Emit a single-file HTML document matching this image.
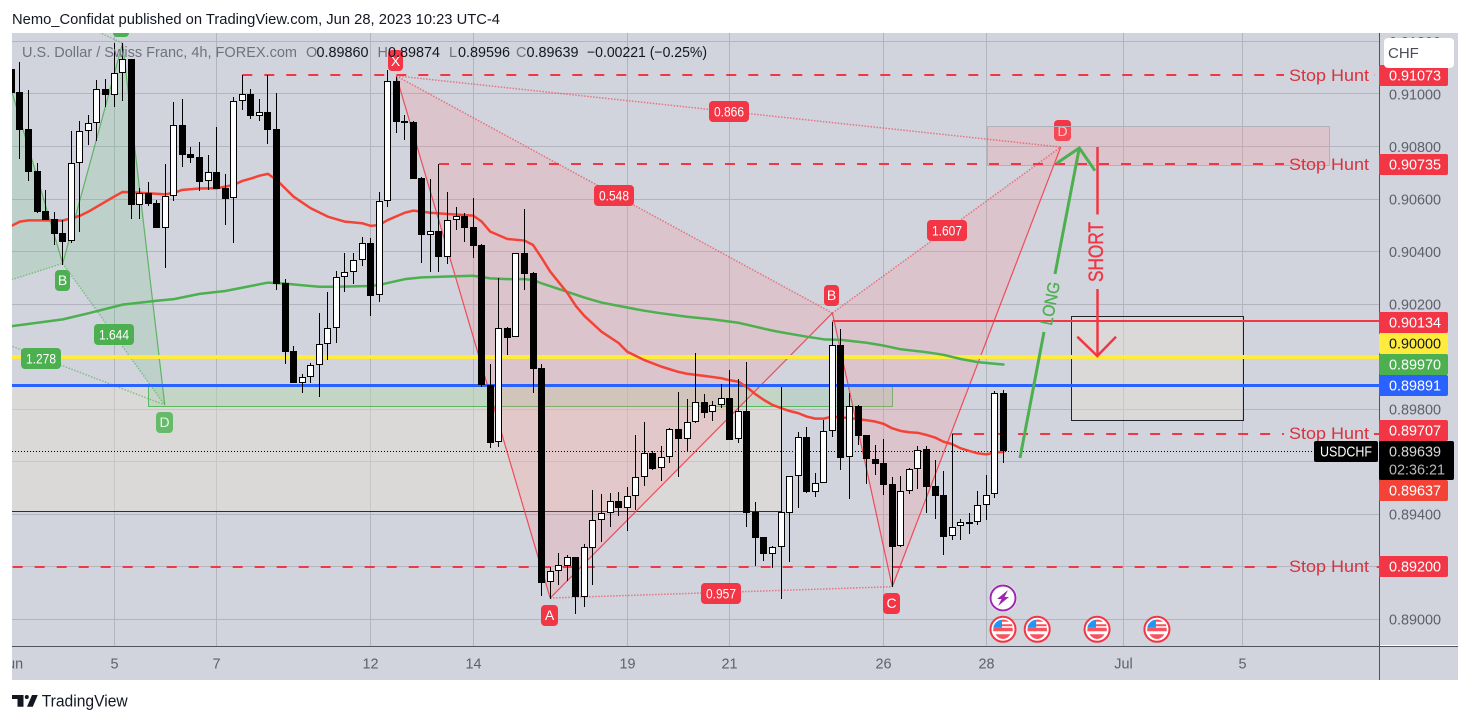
<!DOCTYPE html>
<html lang="en">
<head>
<meta charset="utf-8">
<title>USDCHF 4h chart</title>
<style>
  html, body { margin: 0; padding: 0; background: #ffffff; width: 1470px; height: 723px; overflow: hidden; }
  svg { position: absolute; left: 0; top: 0; display: block; font-family: "Liberation Sans", sans-serif; }
  .axis-text { font-size: 14.4px; fill: #5d606b; }
  .tag-text { font-size: 14.4px; fill: #ffffff; }
  .pill-text { font-size: 14px; fill: #ffffff; text-anchor: middle; }
  .hunt-text { font-size: 16.5px; fill: #d8323f; }
  .legend-label { font-size: 14.4px; fill: #6f7380; }
  .legend-value { font-size: 14.4px; fill: #131722; }
</style>
</head>
<body>
<svg id="chart" width="1470" height="723" viewBox="0 0 1470 723" xmlns="http://www.w3.org/2000/svg">
  <defs>
    <clipPath id="pane-clip"><rect x="12" y="33" width="1367" height="613"/></clipPath>
    <clipPath id="time-clip"><rect x="12" y="647" width="1367" height="33"/></clipPath>
    <clipPath id="hunt-clip"><rect x="0" y="0" width="1284" height="723"/><rect x="1374" y="0" width="5" height="723"/></clipPath>
  </defs>

  <text x="12" y="24" font-size="15" fill="#131722" textLength="488" lengthAdjust="spacingAndGlyphs">Nemo_Confidat published on TradingView.com, Jun 28, 2023 10:23 UTC-4</text>

  <rect x="12" y="33" width="1446" height="647" fill="#d1d4dc"/>

  <g id="grid-layer"></g>
  <g clip-path="url(#pane-clip)">
    <g><rect x="1054" y="120" width="17" height="21" rx="4" fill="#f23645"/><text class="pill-text" x="1062.5" y="136" fill-opacity="0.8">D</text></g>
    <g id="zone-layer"></g>
    <g id="harmonic-layer"></g>
    <g id="level-layer"></g>
    <g id="ema-layer"></g>
    <g id="candle-layer"></g>

    <g fill="none" stroke="#4caf50" stroke-width="3">
      <polyline points="1020,458 1044,332"/>
      <polyline points="1055,274 1079.3,148"/>
      <polyline points="1056.7,163.3 1079.3,148 1095,170.7"/>
    </g>
    <text transform="translate(1050.5,303.5) rotate(-79)" font-size="17" fill="#4caf50" stroke="#4caf50" stroke-width="0.3" text-anchor="middle" dominant-baseline="central" textLength="44" lengthAdjust="spacingAndGlyphs">LONG</text>
    <g fill="none" stroke="#f23645" stroke-width="2.5">
      <polyline points="1097.5,147 1097.5,214.5"/>
      <polyline points="1097.5,289 1097.5,356"/>
      <polyline points="1077.3,336.7 1097.3,356 1116,336.7"/>
    </g>
    <text transform="translate(1096.5,252) rotate(-90)" font-size="21" fill="#f23645" stroke="#f23645" stroke-width="0.4" text-anchor="middle" dominant-baseline="central" textLength="60" lengthAdjust="spacingAndGlyphs">SHORT</text>

    <g>
      <g><rect x="388" y="50" width="15" height="21" rx="4" fill="#f23645"/><text class="pill-text" x="395.5" y="66">X</text></g>
      <g><rect x="541" y="605" width="17" height="21" rx="4" fill="#f23645"/><text class="pill-text" x="549.5" y="620">A</text></g>
      <g><rect x="824" y="285" width="15" height="21" rx="4" fill="#f23645"/><text class="pill-text" x="831.5" y="300">B</text></g>
      <g><rect x="883" y="593" width="17" height="21" rx="4" fill="#f23645"/><text class="pill-text" x="891.5" y="608">C</text></g>
      <g><rect x="709" y="101" width="40" height="21" rx="4" fill="#f23645"/><text class="pill-text" x="729" y="116.5" textLength="30" lengthAdjust="spacingAndGlyphs">0.866</text></g>
      <g><rect x="594" y="185" width="40" height="21" rx="4" fill="#f23645"/><text class="pill-text" x="614" y="200.5" textLength="30" lengthAdjust="spacingAndGlyphs">0.548</text></g>
      <g><rect x="927" y="220" width="40" height="21" rx="4" fill="#f23645"/><text class="pill-text" x="947" y="235.5" textLength="30" lengthAdjust="spacingAndGlyphs">1.607</text></g>
      <g><rect x="701" y="583" width="40" height="21" rx="4" fill="#f23645"/><text class="pill-text" x="721" y="598.5" textLength="30" lengthAdjust="spacingAndGlyphs">0.957</text></g>

      <g><rect x="113" y="16" width="16" height="21" rx="4" fill="#4caf50"/></g>
      <g><rect x="55" y="270" width="15" height="21" rx="4" fill="#4caf50"/><text class="pill-text" x="62.5" y="285">B</text></g>
      <g><rect x="156" y="412" width="17" height="21" rx="4" fill="#66bb6a"/><text class="pill-text" x="164.5" y="427" fill-opacity="0.85">D</text></g>
      <g><rect x="94" y="324" width="40" height="21" rx="4" fill="#4caf50"/><text class="pill-text" x="114" y="339.5" textLength="30" lengthAdjust="spacingAndGlyphs">1.644</text></g>
      <g><rect x="21" y="348" width="40" height="21" rx="4" fill="#4caf50"/><text class="pill-text" x="41" y="363.5" textLength="30" lengthAdjust="spacingAndGlyphs">1.278</text></g>
    </g>

    <text class="hunt-text" x="1289" y="81" textLength="80" lengthAdjust="spacingAndGlyphs">Stop Hunt</text>
    <text class="hunt-text" x="1289" y="170" textLength="80" lengthAdjust="spacingAndGlyphs">Stop Hunt</text>
    <text class="hunt-text" x="1289" y="439" textLength="80" lengthAdjust="spacingAndGlyphs">Stop Hunt</text>
    <text class="hunt-text" x="1289" y="572" textLength="80" lengthAdjust="spacingAndGlyphs">Stop Hunt</text>

    <g>
      <text class="legend-label" x="22" y="57" textLength="275" lengthAdjust="spacingAndGlyphs">U.S. Dollar / Swiss Franc, 4h, FOREX.com</text>
      <text class="legend-label" x="306" y="57">O</text>
      <text class="legend-value" x="316.5" y="57" textLength="52">0.89860</text>
      <text class="legend-label" x="377.5" y="57">H</text>
      <text class="legend-value" x="388" y="57" textLength="52">0.89874</text>
      <text class="legend-label" x="449" y="57">L</text>
      <text class="legend-value" x="458" y="57" textLength="52">0.89596</text>
      <text class="legend-label" x="516" y="57">C</text>
      <text class="legend-value" x="526.5" y="57" textLength="52">0.89639</text>
      <text class="legend-value" x="587" y="57" textLength="120" lengthAdjust="spacingAndGlyphs">−0.00221 (−0.25%)</text>
    </g>

    <rect x="1314" y="441" width="64" height="21" rx="2" fill="#000000"/>
    <text x="1320" y="456.5" font-size="14.4" fill="#ffffff" textLength="52" lengthAdjust="spacingAndGlyphs">USDCHF</text>
  </g>

  <line x1="1379" y1="645.5" x2="1458" y2="645.5" stroke="#ffffff" stroke-width="1"/>
  <line x1="12" y1="646.5" x2="1458" y2="646.5" stroke="#50535e" stroke-width="1"/>
  <line x1="1379.5" y1="33" x2="1379.5" y2="680" stroke="#50535e" stroke-width="1"/>
  <g id="axis-layer"></g>

  <g>
    <g><rect x="1379" y="65" width="69" height="21" rx="2" fill="#f23645"/><text class="tag-text" x="1389" y="80.5">0.91073</text></g>
    <g><rect x="1379" y="154" width="69" height="21" rx="2" fill="#f23645"/><text class="tag-text" x="1389" y="169.5">0.90735</text></g>
    <g><rect x="1379" y="312" width="69" height="21" rx="2" fill="#f23645"/><text class="tag-text" x="1389" y="327.5">0.90134</text></g>
    <g><rect x="1379" y="333" width="69" height="21" rx="2" fill="#ffeb3b"/><text class="tag-text" x="1389" y="348.5" style="fill:#131722">0.90000</text></g>
    <g><rect x="1379" y="354" width="69" height="21" rx="2" fill="#4caf50"/><text class="tag-text" x="1389" y="369.5">0.89970</text></g>
    <g><rect x="1379" y="375" width="69" height="21" rx="2" fill="#2962ff"/><text class="tag-text" x="1389" y="390.5">0.89891</text></g>
    <g><rect x="1379" y="420" width="69" height="21" rx="2" fill="#f23645"/><text class="tag-text" x="1389" y="435.5">0.89707</text></g>
    <g><rect x="1379" y="441" width="75" height="39" rx="2" fill="#000000"/><text class="tag-text" x="1389" y="456.5" style="fill:#d8d8d8">0.89639</text><text class="tag-text" x="1389" y="474.5" style="fill:#b8b8b8" textLength="56" lengthAdjust="spacingAndGlyphs">02:36:21</text></g>
    <g><rect x="1379" y="480" width="69" height="21" rx="2" fill="#f44336"/><text class="tag-text" x="1389" y="495.5">0.89637</text></g>
    <g><rect x="1379" y="556" width="69" height="21" rx="2" fill="#f23645"/><text class="tag-text" x="1389" y="571.5">0.89200</text></g>
  </g>

  <g>
    <rect x="1384" y="38" width="70" height="30" rx="4" fill="#ffffff"/>
    <text x="1388" y="58" font-size="15" fill="#4a4d57">CHF</text>
  </g>

  <g id="event-layer"></g>

  <g>
    <path d="M12 695h11.5v11.7h-6v-7.7H12z M26.8 695a2 2 0 1 1 0 4a2 2 0 1 1 0-4z M32 695h5.8l-5 11.7H27z" fill="#131722"/>
    <text x="41.7" y="706.7" font-size="16.5" fill="#131722" textLength="86" lengthAdjust="spacingAndGlyphs">TradingView</text>
  </g>
</svg>

<script>
// ---- Candle data (4h bars), first entry is bar index -1 ----
const firstBar = -1;
const opens = [0.91095,0.91008,0.90867,0.90707,0.90555,0.90524,0.90471,0.90439,0.90736,0.90858,0.90889,0.91019,0.90997,0.91079,0.91132,0.90579,0.90622,0.90584,0.90491,0.90611,0.90881,0.90772,0.90759,0.90668,0.90702,0.90642,0.90603,0.90972,0.90999,0.90917,0.90930,0.90867,0.90281,0.90022,0.89901,0.89923,0.89968,0.90048,0.90109,0.90302,0.90321,0.90367,0.90432,0.90234,0.90592,0.91048,0.90897,0.90893,0.90680,0.90464,0.90477,0.90381,0.90519,0.90536,0.90493,0.90424,0.89893,0.89674,0.90108,0.90074,0.90394,0.90319,0.89956,0.89141,0.89182,0.89204,0.89236,0.89086,0.89273,0.89377,0.89404,0.89450,0.89425,0.89469,0.89541,0.89633,0.89575,0.89617,0.89724,0.89688,0.89750,0.89826,0.89788,0.89815,0.89842,0.89686,0.89793,0.89409,0.89312,0.89250,0.89274,0.89406,0.89545,0.89693,0.89486,0.89518,0.89716,0.90043,0.89617,0.89811,0.89701,0.89609,0.89594,0.89514,0.89278,0.89488,0.89571,0.89648,0.89507,0.89472,0.89316,0.89354,0.89371,0.89370,0.89434,0.89476,0.89860];
const closes = [0.91005,0.90864,0.90704,0.90552,0.90520,0.90468,0.90438,0.90736,0.90858,0.90889,0.91018,0.90997,0.91079,0.91132,0.90579,0.90622,0.90583,0.90491,0.90611,0.90881,0.90769,0.90758,0.90666,0.90702,0.90640,0.90600,0.90972,0.90999,0.90917,0.90930,0.90864,0.90278,0.90018,0.89901,0.89923,0.89968,0.90048,0.90109,0.90302,0.90321,0.90367,0.90432,0.90232,0.90592,0.91048,0.90895,0.90891,0.90678,0.90464,0.90477,0.90381,0.90519,0.90535,0.90491,0.90423,0.89891,0.89673,0.90108,0.90072,0.90394,0.90316,0.89954,0.89140,0.89182,0.89206,0.89236,0.89086,0.89274,0.89377,0.89404,0.89450,0.89425,0.89469,0.89541,0.89632,0.89574,0.89617,0.89724,0.89688,0.89750,0.89826,0.89787,0.89815,0.89842,0.89684,0.89792,0.89406,0.89311,0.89250,0.89274,0.89408,0.89545,0.89693,0.89486,0.89518,0.89716,0.90043,0.89616,0.89811,0.89699,0.89609,0.89593,0.89513,0.89277,0.89488,0.89571,0.89646,0.89505,0.89471,0.89315,0.89353,0.89370,0.89368,0.89434,0.89475,0.89861,0.89639];
const highs = [0.91118,0.91122,0.91015,0.90736,0.90635,0.90551,0.90520,0.90859,0.90897,0.90920,0.91053,0.91057,0.91194,0.91194,0.91133,0.90642,0.90665,0.90597,0.90734,0.90970,0.90981,0.90798,0.90816,0.90768,0.90875,0.90696,0.90989,0.91072,0.91019,0.90981,0.91072,0.91004,0.90295,0.90041,0.89934,0.89976,0.90166,0.90246,0.90326,0.90395,0.90395,0.90456,0.90451,0.90627,0.91092,0.91066,0.90920,0.90897,0.90684,0.90677,0.90734,0.90626,0.90570,0.90546,0.90603,0.90429,0.89972,0.90298,0.90113,0.90394,0.90562,0.90321,0.89972,0.89201,0.89252,0.89245,0.89238,0.89286,0.89493,0.89477,0.89480,0.89485,0.89503,0.89702,0.89750,0.89641,0.89660,0.89727,0.89866,0.89839,0.90013,0.89858,0.89831,0.89896,0.89949,0.89915,0.89980,0.89446,0.89314,0.89279,0.89885,0.89546,0.89713,0.89732,0.89557,0.89759,0.90133,0.90104,0.89861,0.89816,0.89702,0.89664,0.89686,0.89541,0.89546,0.89575,0.89660,0.89660,0.89606,0.89564,0.89706,0.89381,0.89404,0.89488,0.89549,0.89870,0.89874];
const lows = [0.91005,0.90754,0.90670,0.90546,0.90520,0.90425,0.90349,0.90432,0.90476,0.90806,0.90821,0.90952,0.90952,0.90973,0.90524,0.90524,0.90575,0.90491,0.90339,0.90593,0.90723,0.90739,0.90632,0.90635,0.90638,0.90501,0.90434,0.90939,0.90906,0.90897,0.90811,0.90254,0.89972,0.89901,0.89863,0.89901,0.89848,0.89987,0.90053,0.90247,0.90278,0.90345,0.90156,0.90209,0.90571,0.90853,0.90826,0.90678,0.90358,0.90324,0.90324,0.90354,0.90482,0.90438,0.90377,0.89886,0.89652,0.89657,0.90007,0.90074,0.90254,0.89863,0.89090,0.89078,0.89131,0.89146,0.89022,0.89048,0.89131,0.89295,0.89353,0.89394,0.89338,0.89416,0.89508,0.89569,0.89527,0.89596,0.89543,0.89642,0.89746,0.89768,0.89756,0.89806,0.89683,0.89670,0.89353,0.89204,0.89223,0.89197,0.89078,0.89220,0.89425,0.89482,0.89467,0.89518,0.89695,0.89570,0.89459,0.89664,0.89517,0.89550,0.89473,0.89124,0.89277,0.89478,0.89497,0.89406,0.89383,0.89246,0.89303,0.89303,0.89326,0.89360,0.89379,0.89463,0.89596];

// ---- Moving averages ----
const redEmaBars = [-1,0,1,3,5,6,7,8,9,10,11,12,13,15,17,18,19,21,23,25,26,27,28,29,30,32,34,36,38,40,41,42,43,45,46,48,50,53,54,55,57,59,60,61,62,64,65,66,68,70,71,73,75,77,78,80,82,83,84,85,86,87,88,89,90,91,92,93,94,95,96,97,98,99,100,101,102,103,104,105,106,107,108,109,110,111,112,113,114,115];
const redEmaValues = [0.90498,0.90514,0.90519,0.90519,0.90518,0.90527,0.90536,0.90552,0.90571,0.90590,0.90609,0.90627,0.90626,0.90622,0.90618,0.90624,0.90635,0.90640,0.90641,0.90654,0.90669,0.90678,0.90689,0.90696,0.90673,0.90609,0.90565,0.90533,0.90514,0.90508,0.90498,0.90501,0.90520,0.90548,0.90556,0.90548,0.90543,0.90537,0.90514,0.90476,0.90448,0.90442,0.90425,0.90376,0.90324,0.90243,0.90193,0.90155,0.90095,0.90052,0.90019,0.89987,0.89962,0.89942,0.89935,0.89927,0.89918,0.89910,0.89905,0.89884,0.89857,0.89835,0.89816,0.89804,0.89793,0.89785,0.89772,0.89764,0.89764,0.89772,0.89769,0.89766,0.89762,0.89758,0.89753,0.89744,0.89727,0.89717,0.89712,0.89710,0.89702,0.89692,0.89676,0.89667,0.89651,0.89641,0.89632,0.89628,0.89635,0.89637];
const greenEmaBars = [-1,5,8,12,16,18,21,24,27,29,31,33,35,37,41,42,45,47,50,53,55,57,59,60,61,64,66,68,71,73,75,78,81,84,86,88,89,92,94,96,99,101,103,106,108,110,112,114,115];
const greenEmaValues = [0.90116,0.90142,0.90165,0.90198,0.90213,0.90219,0.90239,0.90250,0.90269,0.90282,0.90278,0.90272,0.90266,0.90266,0.90269,0.90273,0.90295,0.90302,0.90305,0.90308,0.90298,0.90295,0.90295,0.90292,0.90279,0.90247,0.90225,0.90206,0.90187,0.90175,0.90165,0.90152,0.90142,0.90129,0.90114,0.90099,0.90093,0.90076,0.90066,0.90064,0.90053,0.90042,0.90028,0.90017,0.90007,0.89991,0.89979,0.89973,0.89970];

// ---- Axis ticks ----
const priceTicks = [0.89,0.892,0.894,0.896,0.898,0.90,0.902,0.904,0.906,0.908,0.91,0.912];
const priceTickLabels = ['0.89000','0.89200','0.89400','0.89600','0.89800','0.90000','0.90200','0.90400','0.90600','0.90800','0.91000','0.91200'];
const timeTickBars = [-1,11,23,41,53,71,83,101,113,129,143];
const timeTickLabels = ['Jun','5','7','12','14','19','21','26','28','Jul','5'];

// ---- Horizontal levels ----
const stopHuntPrices = [0.91073,0.90735,0.89707,0.89200];
const stopHuntStartBars = [26,49,109,-1];
const resistancePrice = 0.90134;
const resistanceStartBar = 95;
const roundLevelPrice = 0.90000;
const blueLevelPrice = 0.89891;
const lastPrice = 0.89639;

// ---- Zones: [left bar, right bar] and [top price, bottom price] ----
const grayZoneBars = [-3,89];
const grayZonePrices = [0.89891,0.89411];
const greenZoneBars = [15,102];
const greenZonePrices = [0.89891,0.89810];
const pinkZoneBars = [113.1,153.05];
const pinkZonePrices = [0.90877,0.90730];
const targetBoxBars = [122.9,143];
const targetBoxPrices = [0.90155,0.89759];

// ---- Harmonic patterns: X, A, B, C, D ----
const redPatternBars = [44,62,95,102,121.7];
const redPatternPrices = [0.91069,0.89081,0.90166,0.89124,0.90798];
const greenPatternBars = [-12,-5,5,12,16.93];
const greenPatternPrices = [0.90178,0.91455,0.90355,0.91193,0.89816];

// ---- Event icons ----
const lightningBar = 114.95;
const flagBars = [114.95,118.95,125.95,132.95];

const SVGNS = 'http://www.w3.org/2000/svg';
function xScale(bar) { return 19.95 + 8.552 * bar; }
function yScale(price) { return 619.3 - (price - 0.89) * 26265; }
function crisp(v) { return Math.floor(v) + 0.5; }
function make(parent, tag, attrs) {
  const el = document.createElementNS(SVGNS, tag);
  for (const k in attrs) el.setAttribute(k, attrs[k]);
  parent.appendChild(el);
  return el;
}

// Grid and axis labels
const gridLayer = document.getElementById('grid-layer');
const axisLayer = document.getElementById('axis-layer');
priceTicks.forEach(function (p, i) {
  const y = crisp(yScale(p));
  const line = make(gridLayer, 'line', { x1: 12, x2: 1379, y1: y, y2: y, stroke: '#b2b5be', 'stroke-width': 1 });
  
  
  if (yScale(p) > 33) {
    const t = make(axisLayer, 'text', { class: 'axis-text', x: 1389, y: yScale(p) + 5.3 });
    t.textContent = priceTickLabels[i];
    
    
  }
});
const timeAxisGroup = make(axisLayer, 'g', { 'clip-path': 'url(#time-clip)' });


timeTickBars.forEach(function (b, i) {
  const x = crisp(xScale(b));
  if (x > 12) {
    const line = make(gridLayer, 'line', { x1: x, x2: x, y1: 33, y2: 646, stroke: '#b2b5be', 'stroke-width': 1 });
    
    
  }
  const t = make(timeAxisGroup, 'text', { class: 'axis-text', x: x, y: 668.5, 'text-anchor': 'middle' });
  t.textContent = timeTickLabels[i];
  
  
});

// Zones
const zoneLayer = document.getElementById('zone-layer');
function zone(bars, prices, attrs) {
  const x1 = xScale(bars[0]), x2 = xScale(bars[1]), y1 = yScale(prices[0]), y2 = yScale(prices[1]);
  attrs.x = Math.round(x1) + 0.5;
  attrs.y = Math.round(y1) + 0.5;
  attrs.width = Math.round(x2 - x1);
  attrs.height = Math.round(y2 - y1);
  return make(zoneLayer, 'rect', attrs);
}
const grayZone = zone(grayZoneBars, grayZonePrices, { fill: 'rgba(230,225,210,0.42)', stroke: '#2a2e39', 'stroke-width': 1 });


const greenZone = zone(greenZoneBars, greenZonePrices, { fill: 'rgba(110,200,130,0.2)', stroke: '#5cb860', 'stroke-width': 1 });


const pinkZone = zone(pinkZoneBars, pinkZonePrices, { fill: 'rgba(255,140,150,0.22)', stroke: '#aeb0ba', 'stroke-width': 1 });


const targetBox = zone(targetBoxBars, targetBoxPrices, { fill: 'rgba(230,225,210,0.42)', stroke: '#1e222d', 'stroke-width': 1 });



// Harmonic patterns
const harmonicLayer = document.getElementById('harmonic-layer');
function drawPattern(name, bars, prices, color, fill) {
  const pts = bars.map(function (b, i) { return [xScale(b), yScale(prices[i])]; });
  const str = function (idx) { return idx.map(function (k) { return pts[k][0] + ',' + pts[k][1]; }).join(' '); };
  [[0, 1, 2], [2, 3, 4]].forEach(function (tri) {
    const poly = make(harmonicLayer, 'polygon', { points: str(tri), fill: fill, stroke: 'none' });
    
    
  });
  [[0, 1], [1, 2], [2, 3], [3, 4]].forEach(function (seg) {
    const l = make(harmonicLayer, 'polyline', { points: str(seg), fill: 'none', stroke: color, 'stroke-width': 1.2, 'stroke-opacity': 0.85 });
    
    
  });
  [[0, 2], [1, 3], [2, 4], [0, 4]].forEach(function (seg) {
    const l = make(harmonicLayer, 'polyline', { points: str(seg), fill: 'none', stroke: color, 'stroke-width': 1.5, 'stroke-opacity': 0.6, 'stroke-dasharray': '1.5 1.5' });
    
    
  });
}
drawPattern('red-harmonic', redPatternBars, redPatternPrices, '#f23645', 'rgba(255,140,150,0.22)');
drawPattern('green-harmonic', greenPatternBars, greenPatternPrices, '#4caf50', 'rgba(110,200,130,0.2)');

// Levels
const levelLayer = document.getElementById('level-layer');
const yellowLine = make(levelLayer, 'line', { x1: 12, x2: 1379, y1: Math.round(yScale(roundLevelPrice)), y2: Math.round(yScale(roundLevelPrice)), stroke: '#ffeb3b', 'stroke-width': 4 });


const blueLine = make(levelLayer, 'line', { x1: 12, x2: 1379, y1: crisp(yScale(blueLevelPrice)), y2: crisp(yScale(blueLevelPrice)), stroke: '#2962ff', 'stroke-width': 3 });


const redSolid = make(levelLayer, 'line', { x1: xScale(resistanceStartBar), x2: 1379, y1: Math.round(yScale(resistancePrice)), y2: Math.round(yScale(resistancePrice)), stroke: '#f23645', 'stroke-width': 2 });


const lastLine = make(levelLayer, 'line', { x1: 12, x2: 1314, y1: crisp(yScale(lastPrice)), y2: crisp(yScale(lastPrice)), stroke: '#000000', 'stroke-width': 1, 'stroke-dasharray': '1 2' });


stopHuntPrices.forEach(function (p, i) {
  const startX = Math.max(12.7, xScale(stopHuntStartBars[i]));
  const l = make(levelLayer, 'line', { x1: startX, x2: 1379, y1: Math.round(yScale(p)), y2: Math.round(yScale(p)), stroke: '#f23645', 'stroke-width': 2, 'stroke-dasharray': '10 12', 'clip-path': 'url(#hunt-clip)' });
  
  
});

// Moving averages
const emaLayer = document.getElementById('ema-layer');
function drawEma(bars, values, color) {
  const pts = bars.map(function (b, i) { return xScale(b) + ',' + yScale(values[i]); }).join(' ');
  return make(emaLayer, 'polyline', { points: pts, fill: 'none', stroke: color, 'stroke-width': 2.5, 'stroke-linejoin': 'round', 'stroke-linecap': 'round' });
}
const greenEma = drawEma(greenEmaBars, greenEmaValues, '#4caf50');


const redEma = drawEma(redEmaBars, redEmaValues, '#f44336');



// Candles
const candleLayer = document.getElementById('candle-layer');
opens.forEach(function (o, i) {
  const bar = firstBar + i;
  const c = closes[i];
  const up = c >= o;
  const px = Math.floor(xScale(bar));
  const g = make(candleLayer, 'g', {});
  
  
  const top = Math.round(yScale(Math.max(o, c)));
  const bot = Math.round(yScale(Math.min(o, c)));
  const hi = Math.round(yScale(highs[i]));
  const lo = Math.round(yScale(lows[i]));
  make(g, 'rect', { x: px, y: hi, width: 1, height: Math.max(1, lo - hi), fill: '#000000' });
  make(g, 'rect', { x: px - 3, y: top, width: 7, height: Math.max(2, bot - top), fill: '#000000' });
  if (up && bot - top > 2) {
    make(g, 'rect', { x: px - 2, y: top + 1, width: 5, height: bot - top - 2, fill: '#ffffff' });
  }
});

// Event icons
const eventLayer = document.getElementById('event-layer');
const boltGroup = make(eventLayer, 'g', { transform: 'translate(' + xScale(lightningBar) + ',598)' });


make(boltGroup, 'circle', { cx: 0, cy: 0, r: 14, fill: '#ffffff' });
make(boltGroup, 'circle', { cx: 0, cy: 0, r: 12.5, fill: '#ffffff', stroke: '#9c27b0', 'stroke-width': 2 });
make(boltGroup, 'path', { d: 'M5 -8 L-6 1 L-1.5 1 L-5 8 L6 -1 L1.5 -1 Z', fill: '#9c27b0' });
flagBars.forEach(function (b) {
  const flag = make(eventLayer, 'g', { transform: 'translate(' + xScale(b) + ',629.3)' });
  
  
  make(flag, 'circle', { cx: 0, cy: 0, r: 12.5, fill: '#ffffff', stroke: '#f23645', 'stroke-width': 2 });
  make(flag, 'path', { d: 'M-9.5 -1.5 H9.5 A9.7 9.7 0 0 1 9.7 2 H-9.7 A9.7 9.7 0 0 1 -9.5 -1.5 Z', fill: '#f7525f' });
  make(flag, 'path', { d: 'M-1 -9.7 A9.7 9.7 0 0 1 6 -7.5 H-1 Z M-1 -5 H9 A9.7 9.7 0 0 1 9.5 -3 H-1 Z', fill: '#f7525f' });
  make(flag, 'path', { d: 'M-7.5 5 H7.5 A9.7 9.7 0 0 1 0 9.7 A9.7 9.7 0 0 1 -7.5 5 Z', fill: '#f7525f' });
  make(flag, 'path', { d: 'M-9.7 -1.5 A9.7 9.7 0 0 1 -1 -9.7 V-1.5 Z', fill: '#2196f3' });
});
</script>
</body>
</html>
